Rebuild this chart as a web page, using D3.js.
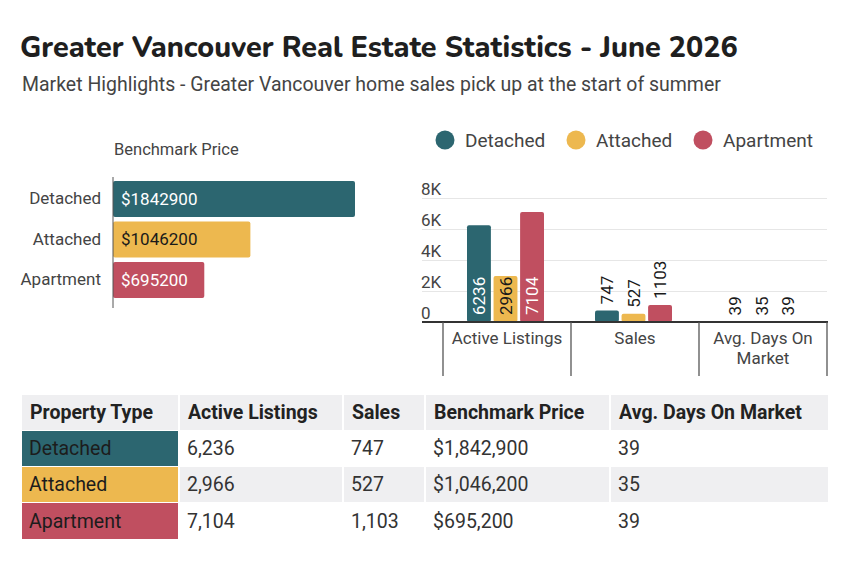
<!DOCTYPE html>
<html>
<head>
<meta charset="utf-8">
<script src="https://cdn.jsdelivr.net/npm/d3@7"></script>
<style>
  html, body { margin: 0; padding: 0; background: #fff; }
  svg { display: block; }
  text { font-family: Roboto, "Noto Sans", sans-serif; }
</style>
</head>
<body>
<svg id="chart" width="850" height="572"></svg>
<script>
// ---------- DATA ----------
const title = "Greater Vancouver Real Estate Statistics - June 2026";
const subtitle = "Market Highlights - Greater Vancouver home sales pick up at the start of summer";
const propertyTypes = ["Detached", "Attached", "Apartment"];
const typeColors = ["#2c6670", "#edb84f", "#c04f60"];
const benchmarkPrice = [1842900, 1046200, 695200];
const activeListings = [6236, 2966, 7104];
const sales = [747, 527, 1103];
const avgDaysOnMarket = [39, 35, 39];
const metricLabels = [["Active Listings"], ["Sales"], ["Avg. Days On", "Market"]];
const yTicks = [0, 2000, 4000, 6000, 8000];
const yTickLabels = ["0", "2K", "4K", "6K", "8K"];
const tableHeaders = ["Property Type", "Active Listings", "Sales", "Benchmark Price", "Avg. Days On Market"];

// ---------- SETUP ----------
const svg = d3.select("#chart");
const color = d3.scaleOrdinal().domain(propertyTypes).range(typeColors);
const textColor = "#444";

// Title
const t = svg.append("text").attr("x", 20).attr("y", 57)
  .style("font-family", "Nunito, Lato, 'Open Sans', sans-serif")
  .style("font-weight", 800).style("font-size", "30px").attr("fill", "#1f1f1f")
  .text(title);
{ const w = t.node().getComputedTextLength(); t.style("font-size", (30 * 718 / w) + "px"); }

const st = svg.append("text").attr("x", 22).attr("y", 91)
  .style("font-size", "18px").attr("fill", textColor).text(subtitle);
{ const w = st.node().getComputedTextLength(); st.style("font-size", (18 * 699 / w) + "px"); }

// ---------- LEFT: Benchmark price horizontal bars ----------
const hx = d3.scaleLinear().domain([0, d3.max(benchmarkPrice)]).range([113, 355]);
const hy = d3.scaleBand().domain(propertyTypes).range([179, 300]).paddingInner(0.111).paddingOuter(0.05);

svg.append("text").attr("x", 114).attr("y", 155)
  .style("font-size", "16.5px").attr("fill", textColor).text("Benchmark Price");

const hData = propertyTypes.map((p, i) => ({ type: p, value: benchmarkPrice[i] }));
svg.append("g").selectAll("rect").data(hData).join("rect")
  .attr("x", hx(0)).attr("y", d => hy(d.type))
  .attr("width", d => hx(d.value) - hx(0)).attr("height", hy.bandwidth())
  .attr("rx", 2).attr("fill", d => color(d.type));

svg.append("g").selectAll("text").data(hData).join("text")
  .attr("x", hx(0) + 8).attr("y", d => hy(d.type) + hy.bandwidth() / 2)
  .attr("dy", "0.35em").style("font-size", "17px")
  .attr("fill", d => d.type === "Attached" ? "#1a1a1a" : "#fff")
  .text(d => "$" + d.value);

const hAxis = svg.append("g").attr("transform", `translate(${hx(0)},0)`)
  .call(d3.axisLeft(hy).tickSize(0).tickPadding(12));
hAxis.select(".domain").remove();
hAxis.selectAll("text").style("font-size", "17px").style("font-family", "Roboto, sans-serif").attr("fill", textColor);
svg.append("line").attr("x1", hx(0)).attr("x2", hx(0)).attr("y1", 177).attr("y2", 308)
  .attr("stroke", "#555").attr("stroke-width", 1);

// ---------- RIGHT: grouped column chart ----------
const metrics = ["Active Listings", "Sales", "Avg. Days On Market"];
const series = [activeListings, sales, avgDaysOnMarket];
const x0 = d3.scaleBand().domain(metrics).range([443, 827]);
const x1 = d3.scaleBand().domain(propertyTypes).range([24, 101]).paddingInner(0.1);
const y = d3.scaleLinear().domain([0, 8000]).range([322, 198]);

// legend
const legendX = [445, 576, 703];
const lg = svg.append("g").selectAll("g").data(propertyTypes).join("g")
  .attr("transform", (d, i) => `translate(${legendX[i]},140)`);
lg.append("circle").attr("r", 9.5).attr("fill", d => color(d));
lg.append("text").attr("x", 20).attr("dy", "0.35em").style("font-size", "19px")
  .attr("fill", textColor).text(d => d);

// grid & y labels
const yAxis = svg.append("g").attr("transform", "translate(422,0)")
  .call(d3.axisRight(y).tickValues(yTicks).tickSize(405).tickFormat((d, i) => yTickLabels[i]));
yAxis.select(".domain").remove();
yAxis.selectAll(".tick line").attr("stroke", "#e6e6e6");
yAxis.selectAll(".tick text").attr("x", -1).attr("dy", -4).attr("text-anchor", "start")
  .style("font-size", "17px").style("font-family", "Roboto, sans-serif").attr("fill", textColor);

// bars
const barData = [];
metrics.forEach((m, mi) => propertyTypes.forEach((p, pi) =>
  barData.push({ metric: m, type: p, value: series[mi][pi] })));

svg.append("g").selectAll("rect").data(barData).join("rect")
  .attr("x", d => x0(d.metric) + x1(d.type)).attr("y", d => y(d.value))
  .attr("width", x1.bandwidth()).attr("height", d => y(0) - y(d.value))
  .attr("rx", 2).attr("fill", d => color(d.type));

// value labels
svg.append("g").selectAll("text").data(barData).join("text")
  .attr("transform", d => {
    const cx = x0(d.metric) + x1(d.type) + x1.bandwidth() / 2;
    const inside = (y(0) - y(d.value)) > 45;
    const yy = inside ? y(0) - 7 : y(d.value) - 6;
    return `translate(${cx},${yy}) rotate(-90)`;
  })
  .attr("dy", "0.36em").attr("text-anchor", "start").style("font-size", "17px")
  .attr("fill", d => ((y(0) - y(d.value)) > 45 && d.type !== "Attached") ? "#fff" : "#1a1a1a")
  .text(d => d.value);

// baseline and separators
svg.append("line").attr("x1", 422).attr("x2", 828).attr("y1", y(0)).attr("y2", y(0))
  .attr("stroke", "#333").attr("stroke-width", 2);
const seps = metrics.map(m => x0(m)).concat([x0.range()[1]]);
svg.append("g").selectAll("line").data(seps).join("line")
  .attr("x1", d => d).attr("x2", d => d).attr("y1", y(0)).attr("y2", 376)
  .attr("stroke", "#555").attr("stroke-width", 1.3);

// category labels
const cl = svg.append("g").selectAll("text").data(metrics).join("text")
  .attr("x", d => x0(d) + x0.bandwidth() / 2).attr("y", 344)
  .attr("text-anchor", "middle").style("font-size", "17px").attr("fill", textColor);
cl.selectAll("tspan").data((d, i) => metricLabels[i]).join("tspan")
  .attr("x", function () { return d3.select(this.parentNode).attr("x"); })
  .attr("dy", (d, i) => i === 0 ? 0 : 20).text(d => d);

// ---------- TABLE ----------
const colX = [22, 180, 344, 426, 611];
const colW = [156, 162, 80, 183, 217];
const rowY = [395, 431, 467, 503];
const rowH = [35, 35, 35, 36];
const rowsData = propertyTypes.map((p, i) => [
  p, d3.format(",")(activeListings[i]), d3.format(",")(sales[i]),
  "$" + d3.format(",")(benchmarkPrice[i]), String(avgDaysOnMarket[i])
]);
const tbl = svg.append("g");
// header
const hdr = tbl.append("g").selectAll("g").data(tableHeaders).join("g");
hdr.append("rect").attr("x", (d, i) => colX[i]).attr("y", rowY[0])
  .attr("width", (d, i) => colW[i]).attr("height", rowH[0]).attr("fill", "#efeff1");
hdr.append("text").attr("x", (d, i) => colX[i] + 8).attr("y", rowY[0] + rowH[0] / 2)
  .attr("dy", "0.35em").style("font-size", "19.5px").style("font-weight", 700).attr("fill", "#222").text(d => d);
// rows
rowsData.forEach((row, ri) => {
  const g = tbl.append("g");
  g.selectAll("rect").data(row).join("rect")
    .attr("x", (d, i) => colX[i]).attr("y", rowY[ri + 1])
    .attr("width", (d, i) => colW[i]).attr("height", rowH[ri + 1])
    .attr("fill", (d, i) => i === 0 ? color(propertyTypes[ri]) : (ri === 1 ? "#efeff1" : "#fff"));
  g.selectAll("text").data(row).join("text")
    .attr("x", (d, i) => colX[i] + 7).attr("y", rowY[ri + 1] + rowH[ri + 1] / 2)
    .attr("dy", "0.35em").style("font-size", "19.5px")
    .attr("fill", (d, i) => i === 0 ? "#1c1c1c" : "#333").text(d => d);
});
</script>
</body>
</html>
